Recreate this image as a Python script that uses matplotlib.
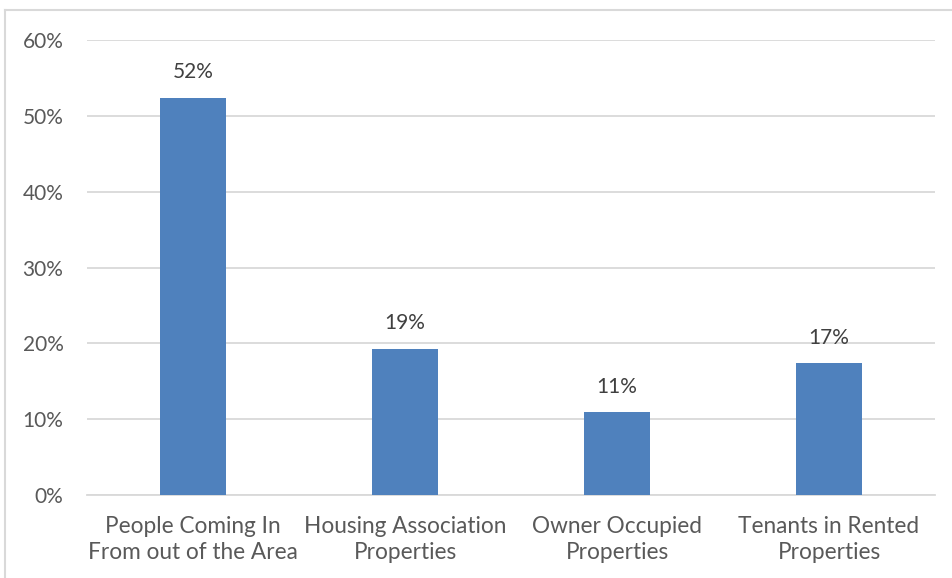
import matplotlib
matplotlib.use("Agg")
import matplotlib.pyplot as plt
from matplotlib.lines import Line2D
from matplotlib.ticker import MultipleLocator, FuncFormatter

categories = ["People Coming In\nFrom out of the Area",
              "Housing Association\nProperties",
              "Owner Occupied\nProperties",
              "Tenants in Rented\nProperties"]
values = [52.4, 19.3, 10.9, 17.4]
value_labels = ["52%", "19%", "11%", "17%"]

plt.rcParams['font.family'] = ['Lato', 'DejaVu Sans']
text_color = "#595959"

fig = plt.figure(figsize=(9.52, 5.78), dpi=100)
ax = fig.add_axes([87/952, 1-495/578, (935-87)/952, (495-40)/578])

x = list(range(len(categories)))
bars = ax.bar(x, values, width=0.31, color="#4F81BD", zorder=3)
for b, lab in zip(bars, value_labels):
    ax.annotate(lab, (b.get_x() + b.get_width()/2, b.get_height()),
                xytext=(0, 11), textcoords="offset points",
                ha="center", va="bottom", fontsize=15, color="#404040")

ax.set_xlim(-0.5, len(categories) - 0.5)
ax.set_ylim(0, 60)
ax.yaxis.set_major_locator(MultipleLocator(10))
ax.yaxis.set_major_formatter(FuncFormatter(lambda v, p: f"{int(v)}%"))
ax.set_xticks(x)
ax.set_xticklabels(categories, fontsize=16.3, color=text_color, linespacing=1.3)
ax.tick_params(axis='y', length=0, pad=17, labelsize=15, labelcolor=text_color)
ax.tick_params(axis='x', length=0, pad=15)
ax.grid(axis='y', color="#D9D9D9", linewidth=1.3, zorder=0)
for s in ["top", "right", "left"]:
    ax.spines[s].set_visible(False)
ax.spines["bottom"].set_color("#D9D9D9")
ax.spines["bottom"].set_linewidth(1.3)

# outer frame (top and left visible)
fig.add_artist(Line2D([5/952, 5/952], [0, 1-10/578], transform=fig.transFigure,
                      color="#D9D9D9", linewidth=1.5))
fig.add_artist(Line2D([5/952, 1], [1-10/578, 1-10/578], transform=fig.transFigure,
                      color="#D9D9D9", linewidth=1.5))

fig.savefig("out.png", dpi=100, facecolor="white")
